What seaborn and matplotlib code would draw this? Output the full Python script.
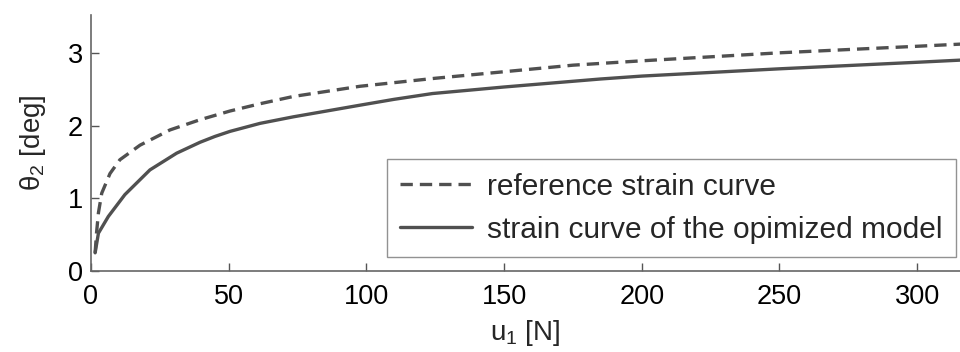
import matplotlib
matplotlib.use("Agg")
import matplotlib.pyplot as plt
import seaborn as sns
import pandas as pd

# data
u_ref = [1.5, 2.0, 2.7, 3.9, 6.9, 10.5, 17.8, 28.7, 39.6, 50.5, 61.4, 73.5, 85.6,
         97.7, 125, 150, 175, 200, 250, 300, 316]
theta_ref = [0.25, 0.52, 0.80, 1.07, 1.34, 1.53, 1.73, 1.94, 2.08, 2.20, 2.30, 2.40,
             2.47, 2.54, 2.65, 2.74, 2.83, 2.89, 3.00, 3.09, 3.12]
u_opt = [1.5, 2.7, 6.3, 12.3, 21.4, 31.1, 39.6, 45, 50.5, 61.4, 73.5, 85.6, 97.7, 110,
         124, 150, 185, 200, 250, 300, 316]
theta_opt = [0.25, 0.52, 0.75, 1.05, 1.39, 1.62, 1.77, 1.85, 1.92, 2.03, 2.12, 2.20, 2.28,
             2.36, 2.44, 2.53, 2.64, 2.68, 2.78, 2.87, 2.90]
labels = ["reference strain curve", "strain curve of the opimized model"]
xticks = [0, 50, 100, 150, 200, 250, 300]
yticks = [0, 1, 2, 3]

sns.set_theme(style="white")
plt.rcParams["font.family"] = ["Liberation Sans", "DejaVu Sans"]
plt.rcParams["mathtext.fontset"] = "custom"
plt.rcParams["mathtext.rm"] = "Liberation Sans"
plt.rcParams["mathtext.it"] = "Liberation Sans"

df_ref = pd.DataFrame({"u": u_ref, "theta": theta_ref})
df_opt = pd.DataFrame({"u": u_opt, "theta": theta_opt})

fig = plt.figure(figsize=(9.6, 3.52), dpi=100)
ax = fig.add_axes([91/960, 81/352, 869/960, 256/352])

col = "#505050"
sns.lineplot(data=df_ref, x="u", y="theta", ax=ax, color=col, lw=2.4,
             linestyle=(0, (3.7, 2.1)), label=labels[0])
sns.lineplot(data=df_opt, x="u", y="theta", ax=ax, color=col, lw=2.4,
             label=labels[1])

ax.set_xlim(0, 315.6)
ax.set_ylim(0, 3.52)
ax.set_xticks(xticks)
ax.set_yticks(yticks)
ax.tick_params(axis="both", which="major", direction="in", length=6, width=1,
               color="#555555", labelsize=19.5, labelcolor="black",
               bottom=True, left=True, top=False, right=False)
ax.tick_params(axis="x", pad=9)
ax.tick_params(axis="y", pad=6)
for s in ["top", "right"]:
    ax.spines[s].set_visible(False)
for s in ["left", "bottom"]:
    ax.spines[s].set_color("#666666")
    ax.spines[s].set_linewidth(1.2)

ax.set_xlabel("u$_1$ [N]", fontsize=20, labelpad=6)
ax.set_ylabel("θ$_2$ [deg]", fontsize=20, labelpad=14)

leg = ax.legend(loc="lower right", bbox_to_anchor=((956 - 91)/869, 14/256),
                borderaxespad=0, fontsize=21.5, frameon=True, fancybox=False,
                handlelength=2.4, handletextpad=0.5, borderpad=0.45,
                labelspacing=0.5)
leg.get_frame().set_edgecolor("#777777")
leg.get_frame().set_linewidth(1.0)

fig.savefig("out.png", dpi=100)
